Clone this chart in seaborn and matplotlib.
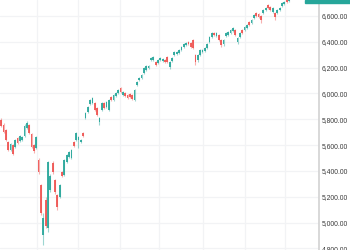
import numpy as np
import matplotlib
matplotlib.use("Agg")
import matplotlib.pyplot as plt
import seaborn as sns
from matplotlib.patches import Rectangle

opens = [5795, 5756, 5718, 5625, 5563, 5601, 5586, 5656, 5632, 5640,
         5671, 5733, 5756, 5687, 5601, 5578, 5485, 5292, 4905, 5176,
         4959, 5253, 5462, 5331, 5214, 5199, 5392, 5369, 5470, 5508,
         5501, 5625, 5640, 5640, 5625, 5694, 5810, 5857, 5919, 5927,
         5927, 5888, 5779, 5872, 5927, 5896, 5872, 5973, 5950, 5981,
         6004, 6043, 5989, 6004, 5989, 5996, 5989, 5950, 6066, 6105,
         6120, 6159, 6182, 6198, 6259, 6259, 6244, 6236, 6259, 6252,
         6259, 6283, 6205, 6252, 6298, 6306, 6314, 6337, 6360, 6376,
         6399, 6391, 6414, 6298, 6259, 6298, 6321, 6329, 6352, 6399,
         6438, 6469, 6445, 6453, 6414, 6383, 6445, 6453, 6469, 6484,
         6492, 6399, 6438, 6492, 6492, 6507, 6554, 6546, 6585, 6623,
         6616, 6600, 6623, 6647, 6685, 6670, 6631, 6623, 6623, 6647,
         6678, 6693, 6724, 6716]
closes = [5748, 5702, 5640, 5563, 5609, 5532, 5640, 5617, 5671, 5663,
          5748, 5772, 5694, 5586, 5555, 5663, 5392, 5075, 5036, 4974,
          5470, 5361, 5392, 5238, 5121, 5292, 5361, 5485, 5524, 5547,
          5563, 5594, 5694, 5663, 5640, 5671, 5849, 5896, 5950, 5965,
          5872, 5834, 5810, 5927, 5888, 5934, 5950, 5950, 5989, 6004,
          6027, 6012, 6012, 5981, 5965, 5973, 5958, 6027, 6089, 6120,
          6143, 6198, 6213, 6213, 6275, 6283, 6221, 6259, 6275, 6267,
          6244, 6244, 6244, 6275, 6321, 6321, 6337, 6360, 6383, 6391,
          6383, 6360, 6352, 6244, 6298, 6337, 6337, 6352, 6383, 6438,
          6469, 6453, 6469, 6414, 6376, 6414, 6469, 6476, 6492, 6507,
          6453, 6430, 6469, 6469, 6515, 6530, 6530, 6569, 6608, 6600,
          6592, 6569, 6647, 6662, 6662, 6647, 6662, 6592, 6647, 6662,
          6701, 6709, 6709, 6739]
highs = [5810, 5770, 5725, 5632, 5620, 5610, 5650, 5665, 5680, 5672,
         5760, 5785, 5765, 5695, 5610, 5672, 5500, 5300, 5075, 5200,
         5480, 5375, 5475, 5340, 5225, 5300, 5400, 5495, 5535, 5556,
         5572, 5635, 5702, 5672, 5650, 5702, 5858, 5905, 5958, 5975,
         5935, 5896, 5820, 5935, 5935, 5942, 5958, 5981, 5997, 6012,
         6035, 6050, 6020, 6012, 5997, 6004, 5997, 6035, 6097, 6128,
         6151, 6205, 6221, 6221, 6283, 6291, 6252, 6267, 6283, 6275,
         6267, 6290, 6252, 6283, 6329, 6329, 6345, 6368, 6391, 6399,
         6407, 6399, 6422, 6306, 6306, 6345, 6345, 6360, 6391, 6445,
         6476, 6476, 6476, 6461, 6422, 6422, 6476, 6484, 6500, 6515,
         6500, 6438, 6476, 6500, 6523, 6538, 6561, 6577, 6616, 6631,
         6623, 6608, 6654, 6670, 6693, 6678, 6670, 6631, 6654, 6670,
         6709, 6716, 6732, 6750]
lows = [5740, 5695, 5632, 5555, 5555, 5520, 5578, 5610, 5625, 5632,
        5663, 5725, 5687, 5578, 5540, 5570, 5380, 5060, 4827, 4960,
        4930, 5240, 5380, 5225, 5100, 5190, 5350, 5360, 5460, 5500,
        5490, 5585, 5632, 5580, 5615, 5663, 5800, 5849, 5911, 5919,
        5865, 5826, 5755, 5865, 5880, 5888, 5865, 5942, 5942, 5973,
        5997, 6004, 5981, 5973, 5958, 5965, 5950, 5942, 6058, 6097,
        6112, 6151, 6174, 6190, 6252, 6252, 6213, 6228, 6252, 6244,
        6236, 6236, 6190, 6244, 6290, 6298, 6306, 6329, 6352, 6368,
        6376, 6352, 6345, 6221, 6244, 6290, 6314, 6321, 6345, 6391,
        6430, 6445, 6438, 6407, 6360, 6368, 6438, 6445, 6461, 6476,
        6445, 6380, 6430, 6461, 6484, 6500, 6523, 6538, 6577, 6592,
        6585, 6545, 6616, 6639, 6654, 6639, 6623, 6570, 6616, 6639,
        6670, 6685, 6700, 6709]
y_ticks = [4800, 5000, 5200, 5400, 5600, 5800, 6000, 6200, 6400, 6600]
x_grid = [15.4, 32.9, 50.9, 67.5, 86.3, 104.3, 121.4]

UP = "#26a69a"
DOWN = "#ef5350"

sns.set_theme(style="white")
plt.rcParams['font.family'] = ['Liberation Sans', 'DejaVu Sans']

fig = plt.figure(figsize=(3.5, 2.5), dpi=100)
ax = fig.add_axes([0, 0, 319 / 350, 1])

o = np.array(opens, float)
c = np.array(closes, float)
h = np.array(highs, float)
l = np.array(lows, float)
idx = np.arange(len(o))
up = c >= o
cols = np.where(up, UP, DOWN)

for xg in x_grid:
    ax.axvline(xg, color="#f2f3f5", lw=0.9, zorder=0)
for yt in y_ticks:
    ax.axhline(yt, color="#f2f3f5", lw=0.9, zorder=0)

ax.vlines(idx, l, h, colors=cols, lw=0.8, alpha=0.45, zorder=2)
ax.bar(idx, np.abs(c - o), bottom=np.minimum(o, c), width=0.75,
       color=cols, alpha=0.9, linewidth=0, zorder=3)

ax.set_xlim(-0.5, 135.8)
ax.set_ylim(4788, 6724)
ax.set_xticks([])
ax.set_yticks(y_ticks)
ax.set_yticklabels([f"{v:,.2f}" for v in y_ticks], fontsize=4.9, color="#3a3a3a")
ax.yaxis.tick_right()
ax.tick_params(axis="y", length=0, pad=2.2)
for s in ["top", "left", "bottom"]:
    ax.spines[s].set_visible(False)
ax.spines["right"].set_color("#d5d5d5")
ax.spines["right"].set_linewidth(1.3)

fig.patches.append(Rectangle((305 / 350, 1 - 3 / 250), 45 / 350, 3 / 250,
                             transform=fig.transFigure, color=UP, zorder=10))

fig.savefig("out.png", dpi=100)
